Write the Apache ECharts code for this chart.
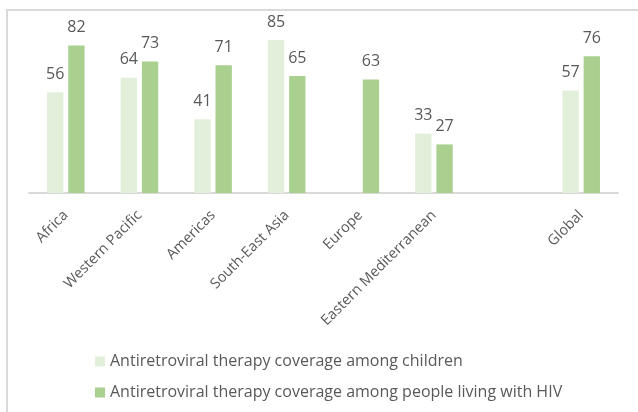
<!DOCTYPE html>
<html>
<head>
<meta charset="utf-8">
<script src="https://cdn.jsdelivr.net/npm/echarts@6/dist/echarts.min.js"></script>
<style>
  html, body { margin: 0; padding: 0; background: #ffffff; }
  #chart { width: 638px; height: 412px; }
</style>
</head>
<body>
<div id="chart"></div>
<script>
// WHO regions plus the global figure; the blank slot separates Global from the regions
const categories = ['Africa', 'Western Pacific', 'Americas', 'South-East Asia', 'Europe', 'Eastern Mediterranean', '', 'Global'];
const childrenCoverage = [56, 64, 41, 85, null, 33, null, 57];
const allPlhivCoverage = [82, 73, 71, 65, 63, 27, null, 76];
const seriesNames = [
  'Antiretroviral therapy coverage among children',
  'Antiretroviral therapy coverage among people living with HIV'
];

const textColor = '#595959';
const fontFamily = '"Open Sans", "Noto Sans", sans-serif';

const chart = echarts.init(document.getElementById('chart'), null, { renderer: 'canvas' });

const valueLabel = {
  show: true,
  position: 'top',
  distance: 10,
  color: textColor,
  fontFamily: fontFamily,
  fontSize: 16
};

chart.setOption({
  animation: false,
  backgroundColor: '#ffffff',
  graphic: [
    {
      type: 'polyline',
      shape: { points: [[7, 412], [7, 10], [638, 10]] },
      style: { stroke: '#d9d9d9', lineWidth: 2, fill: null },
      silent: true
    }
  ],
  grid: { left: 29, right: 20, top: 13, bottom: 219 },
  legend: {
    orient: 'vertical',
    left: 90,
    top: 348,
    icon: 'rect',
    itemWidth: 10,
    itemHeight: 10,
    itemGap: 14,
    textStyle: { color: textColor, fontFamily: fontFamily, fontSize: 16, lineHeight: 17 },
    data: seriesNames
  },
  xAxis: {
    type: 'category',
    data: categories,
    axisLine: { lineStyle: { color: '#d9d9d9', width: 2 } },
    axisTick: { show: false },
    axisLabel: {
      interval: 0,
      rotate: 45,
      margin: 20,
      color: textColor,
      fontFamily: fontFamily,
      fontSize: 14.5
    }
  },
  yAxis: {
    type: 'value',
    min: 0,
    max: 100,
    show: false,
    splitLine: { show: false }
  },
  series: [
    {
      name: seriesNames[0],
      type: 'bar',
      data: childrenCoverage,
      itemStyle: { color: '#e2efda' },
      barGap: '30%',
      barCategoryGap: '49%',
      label: valueLabel
    },
    {
      name: seriesNames[1],
      type: 'bar',
      data: allPlhivCoverage,
      itemStyle: { color: '#a9d08e' },
      barGap: '30%',
      barCategoryGap: '49%',
      label: valueLabel
    }
  ]
});
</script>
</body>
</html>
